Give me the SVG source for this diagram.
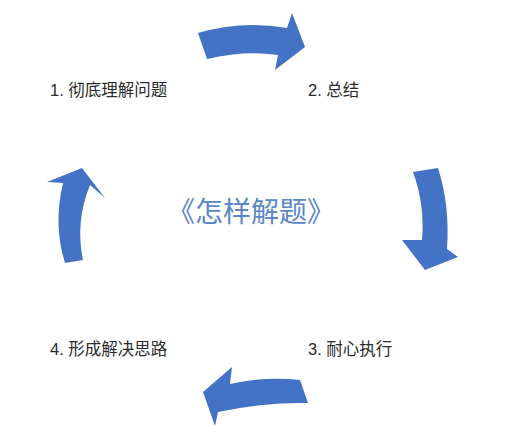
<svg xmlns="http://www.w3.org/2000/svg" width="506" height="442" viewBox="0 0 506 442">
<style>
.arrow{fill:#4472C4;}
.lbl{font-family:"Liberation Sans","Noto Sans CJK SC",sans-serif;font-size:16.5px;fill:#2b2b2b;}
.title{font-family:"Noto Sans CJK SC",sans-serif;font-size:28px;fill:#5B87C5;}
</style>
<rect width="506" height="442" fill="#fff"/>
<g id="connectors">
<path class="arrow" d="M198,33 Q242,20 287,28 L292,13 L305,47 L275,70 L278,55 Q245,50 207,59 Z"/>
<path class="arrow" d="M413,172 L438,168 Q450,205 447,249 L458,257 L425,270 L402,240 L422,240 Q425,205 413,172 Z"/>
<path class="arrow" d="M300,380 L308,403 Q265,402 218,412 L215,426 L203,392 L232,367 L230,384 Q265,376 300,380 Z"/>
<path class="arrow" d="M65,263 L83,260 Q75,222 90,185 L105,198 L82,168 L47,182 L63,183 Q53,225 65,263 Z"/>
</g>
<g id="title"><text class="title" x="251" y="222" text-anchor="middle">《怎样解题》</text></g>
<g id="step1"><text class="lbl" x="50" y="96">1. 彻底理解问题</text></g>
<g id="step2"><text class="lbl" x="308" y="96">2. 总结</text></g>
<g id="step3"><text class="lbl" x="308" y="355">3. 耐心执行</text></g>
<g id="step4"><text class="lbl" x="50" y="355">4. 形成解决思路</text></g>
</svg>
